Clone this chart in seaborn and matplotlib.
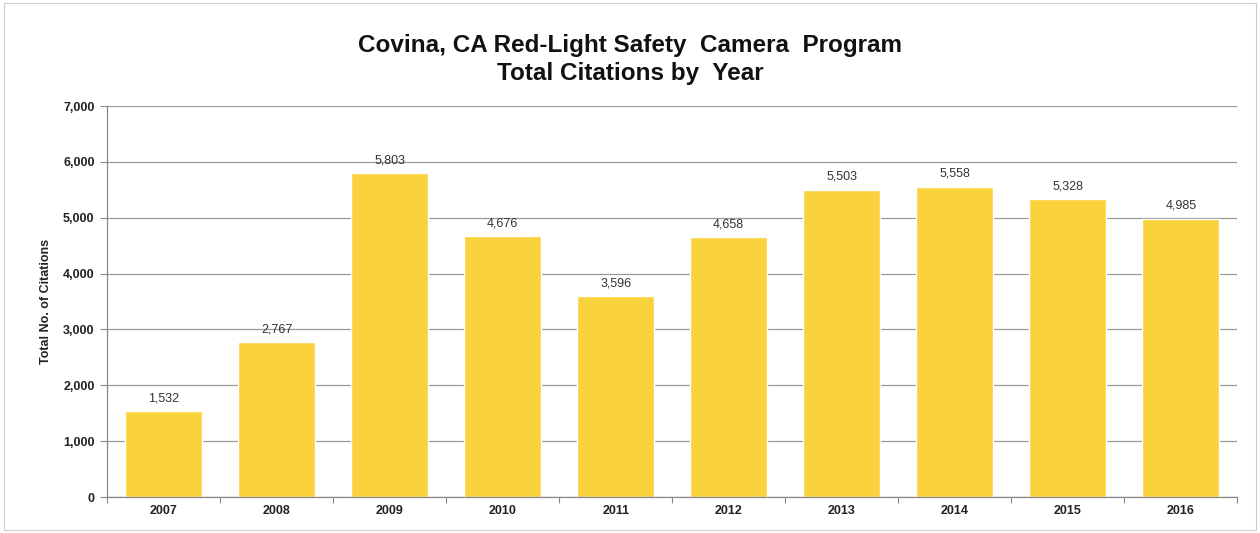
import matplotlib
matplotlib.use('Agg')
import matplotlib.pyplot as plt
import numpy
import pandas
import seaborn as sns
from matplotlib.ticker import FuncFormatter, FixedLocator

years = ['2007', '2008', '2009', '2010', '2011', '2012', '2013', '2014', '2015', '2016']
citations = [1532, 2767, 5803, 4676, 3596, 4658, 5503, 5558, 5328, 4985]

BAR_COLOR = '#FAD23C'

sns.set_theme(style='white')
plt.rcParams['font.family'] = ['Liberation Sans', 'DejaVu Sans']

df = pandas.DataFrame({'year': years, 'citations': citations})

fig = plt.figure(figsize=(12.6, 5.33), dpi=100)
ax = fig.add_axes([0.085, 0.0675, 0.897, 0.7335])

sns.barplot(data=df, x='year', y='citations', color=BAR_COLOR, saturation=1,
            width=0.68, ax=ax, zorder=2)

ax.set_ylim(0, 7000)
ax.set_xlim(-0.5, len(years) - 0.5)
ax.set_yticks(range(0, 7001, 1000))
ax.yaxis.set_major_formatter(FuncFormatter(lambda v, _: f'{int(v):,}'))
ax.yaxis.grid(True, color='#9a9a9a', linewidth=0.9, zorder=0)
ax.set_axisbelow(True)

for lbl in ax.get_yticklabels() + ax.get_xticklabels():
    lbl.set_fontweight('bold')
    lbl.set_fontsize(9)
    lbl.set_color('#222222')

ax.tick_params(axis='y', which='major', direction='out', length=5, width=0.8,
               color='#888888', left=True, pad=4)
ax.tick_params(axis='x', which='major', length=0, pad=6)
ax.xaxis.set_minor_locator(FixedLocator(numpy.arange(-0.5, len(years), 1.0)))
ax.tick_params(axis='x', which='minor', direction='out', length=4, width=0.8,
               color='#888888', bottom=True)

for side in ['top', 'right']:
    ax.spines[side].set_visible(False)
for side in ['left', 'bottom']:
    ax.spines[side].set_color('#888888')
    ax.spines[side].set_linewidth(0.9)

ax.set_xlabel('')
ax.set_ylabel('Total No. of Citations', fontsize=9, fontweight='bold', color='#222222', labelpad=8)

for i, v in enumerate(citations):
    ax.text(i, v + 120, f'{v:,}', ha='center', va='bottom', fontsize=9, color='#333333')

fig.text(0.5, 0.915, 'Covina, CA Red-Light Safety  Camera  Program', ha='center', va='center',
         fontsize=17.5, fontweight='bold', color='#111111')
fig.text(0.5, 0.862, 'Total Citations by  Year', ha='center', va='center',
         fontsize=17.5, fontweight='bold', color='#111111')

border = plt.Rectangle((0.003, 0.005), 0.994, 0.99, transform=fig.transFigure,
                       fill=False, edgecolor='#cccccc', linewidth=0.8)
fig.patches.append(border)

plt.savefig('out.png', dpi=100)
